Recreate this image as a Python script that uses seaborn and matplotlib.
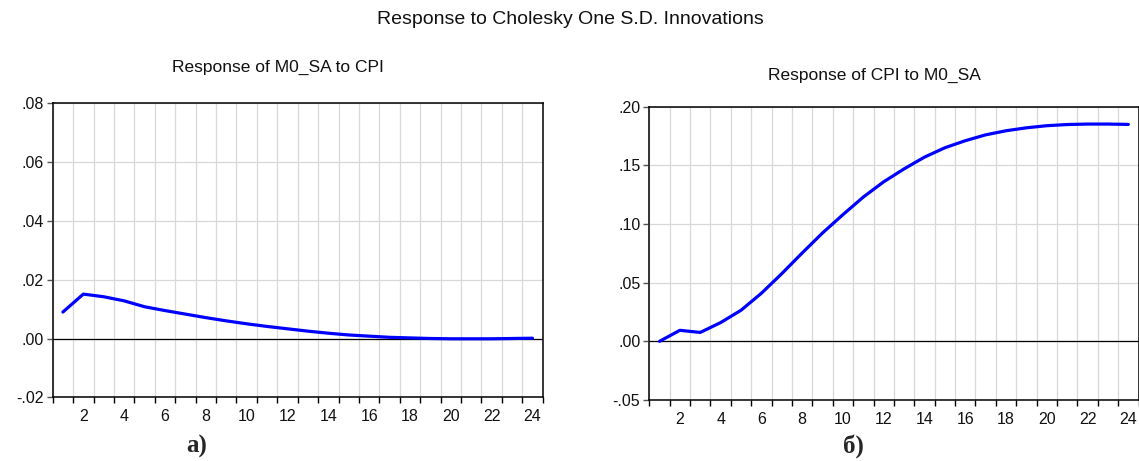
import numpy as np
import pandas as pd
import seaborn as sns
import matplotlib
matplotlib.use("Agg")
import matplotlib.pyplot as plt
from matplotlib.ticker import FuncFormatter, FixedLocator

periods = list(range(1, 25))
m0_to_cpi = [0.0090, 0.0151, 0.0142, 0.0128, 0.0108, 0.0095, 0.0083, 0.0071,
             0.0060, 0.0050, 0.0041, 0.0033, 0.0025, 0.0018, 0.0012, 0.0008,
             0.0004, 0.0002, 0.0000, -0.0001, -0.0001, -0.0001, 0.0000, 0.0001]
cpi_to_m0 = [0.0000, 0.0094, 0.0076, 0.0160, 0.0265, 0.0410, 0.0577, 0.0753,
             0.0924, 0.1080, 0.1230, 0.1360, 0.1470, 0.1570, 0.1650, 0.1710,
             0.1760, 0.1795, 0.1820, 0.1838, 0.1848, 0.1852, 0.1852, 0.1849]
main_title = "Response to Cholesky One S.D. Innovations"
titles = ["Response of M0_SA to CPI", "Response of CPI to M0_SA"]
panel_labels = ["а)", "б)"]
y_ticks = [[-0.02, 0.00, 0.02, 0.04, 0.06, 0.08],
           [-0.05, 0.00, 0.05, 0.10, 0.15, 0.20]]
x_labels = list(range(2, 25, 2))

sns.set_style("white")
plt.rcParams['font.family'] = ['Liberation Sans', 'DejaVu Sans']

W, H = 1139, 461
fig = plt.figure(figsize=(W / 100, H / 100), dpi=100)

boxes = [(52.7, 103.3, 542.7, 397.3), (649.3, 106.7, 1138.5, 400.0)]
title_pos = [(278, 67), (874, 75)]
label_pos = [(197, 446), (853, 446)]
series = [m0_to_cpi, cpi_to_m0]

fmt = FuncFormatter(lambda v, p: f"{v:.2f}".replace("0.", ".", 1))

for i in range(2):
    x0, y0, x1, y1 = boxes[i]
    ax = fig.add_axes([x0 / W, 1 - y1 / H, (x1 - x0) / W, (y1 - y0) / H])
    df = pd.DataFrame({"period": periods, "value": series[i]})
    sns.lineplot(data=df, x="period", y="value", ax=ax, color="#0000ff",
                 linewidth=2.3, zorder=5)
    ax.set_xlim(0.5, 24.5)
    ax.set_ylim(y_ticks[i][0], y_ticks[i][-1])
    ax.set_xlabel("")
    ax.set_ylabel("")
    bounds = [k + 0.5 for k in range(0, 25)]
    ax.xaxis.set_major_locator(FixedLocator(bounds))
    ax.xaxis.set_major_formatter(FuncFormatter(lambda v, p: ""))
    ax.xaxis.set_minor_locator(FixedLocator(x_labels))
    ax.xaxis.set_minor_formatter(FuncFormatter(lambda v, p: f"{int(round(v))}"))
    ax.set_yticks(y_ticks[i])
    ax.yaxis.set_major_formatter(fmt)
    ax.tick_params(axis="x", which="major", direction="out", length=4.5,
                   width=1.0, color="black", bottom=True)
    ax.tick_params(axis="x", which="minor", length=0, pad=8.5, labelsize=11.5,
                   bottom=True, labelcolor="#111111")
    ax.tick_params(axis="y", which="major", direction="out", length=4.5,
                   width=1.0, color="#555555", left=True, labelsize=11.5, pad=2,
                   labelcolor="#111111")
    ax.grid(True, which="major", axis="both", color="#d8d8d8", linewidth=0.9)
    ax.axhline(0, color="black", linewidth=0.9, zorder=4)
    for s in ax.spines.values():
        s.set_visible(True)
        s.set_color("black")
        s.set_linewidth(1.1)
    ax.spines["left"].set_color("#333333")
    ax.spines["left"].set_linewidth(1.4)
    tx, ty = title_pos[i]
    fig.text(tx / W, 1 - ty / H, titles[i], ha="center", va="center",
             fontsize=12.5, color="#111111")
    lx, ly = label_pos[i]
    fig.text(lx / W, 1 - ly / H, panel_labels[i], ha="center", va="center",
             fontsize=18, fontweight="bold", family=["Liberation Serif", "DejaVu Serif"])

fig.text(570 / W, 1 - 20 / H, main_title, ha="center", va="center",
         fontsize=14, color="#111111")

fig.savefig("out.png", dpi=100)
